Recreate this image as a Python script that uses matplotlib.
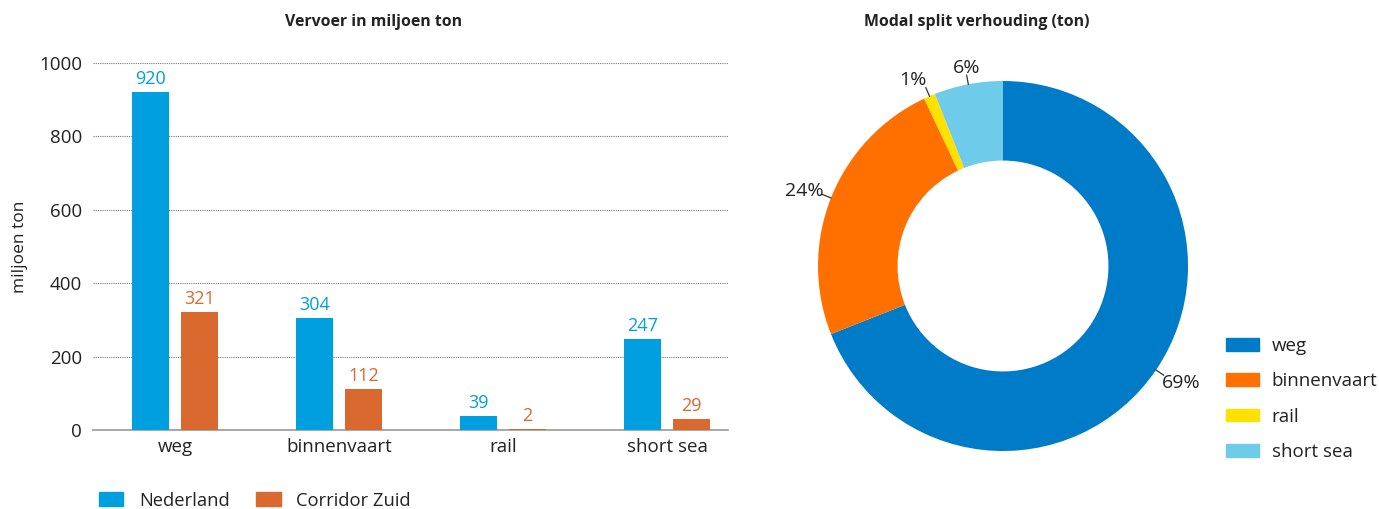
import matplotlib
matplotlib.use("Agg")
import matplotlib.pyplot as plt
from matplotlib.patches import Patch
import numpy as np

plt.rcParams['font.family'] = ['Open Sans', 'DejaVu Sans']

# ---- data ----
categories = ["weg", "binnenvaart", "rail", "short sea"]
nederland = [920, 304, 39, 247]
corridor_zuid = [321, 112, 2, 29]
series_names = ["Nederland", "Corridor Zuid"]
y_ticks = [0, 200, 400, 600, 800, 1000]

pie_labels = ["weg", "binnenvaart", "rail", "short sea"]
pie_pct = [69, 24, 1, 6]

bar_colors = ["#009FDF", "#D9692E"]
pie_colors = ["#007BC7", "#FF7000", "#FFE100", "#6ECBEA"]
text_col = "#222222"

W, H = 1379, 509
fig = plt.figure(figsize=(W / 100, H / 100), dpi=100)

# ---- bar chart ----
ax = fig.add_axes([93 / W, 1 - 430 / H, (728 - 93) / W, (430 - 63) / H])
x = np.arange(len(categories))
bw = 0.226
off = 0.149
b1 = ax.bar(x - off, nederland, bw, color=bar_colors[0], zorder=3)
b2 = ax.bar(x + off, corridor_zuid, bw, color=bar_colors[1], zorder=3)
for bars, vals, c in [(b1, nederland, bar_colors[0]), (b2, corridor_zuid, bar_colors[1])]:
    for r, v in zip(bars, vals):
        ax.annotate(str(v), (r.get_x() + r.get_width() / 2, v), xytext=(0, 3),
                    textcoords="offset points", ha="center", va="bottom",
                    color=c, fontsize=13)
ax.set_xlim(-0.5, 3.372)
ax.set_ylim(0, 1000)
ax.set_yticks(y_ticks)
ax.set_yticklabels([str(t) for t in y_ticks], fontsize=13.5, color=text_col)
ax.set_xticks(x)
ax.set_xticklabels(categories, fontsize=13.5, color=text_col)
ax.tick_params(axis="both", length=0, pad=8)
ax.tick_params(axis="x", pad=6)
for s in ["top", "right", "left"]:
    ax.spines[s].set_visible(False)
ax.spines["bottom"].set_color("#999999")
ax.spines["bottom"].set_linewidth(1.2)
ax.yaxis.grid(True, linestyle=(0, (1, 1)), color="#777777", linewidth=0.8, zorder=0)
ax.set_axisbelow(True)
ax.set_ylabel("miljoen ton", fontsize=12.5, color=text_col, labelpad=8)
fig.text(374 / W, 1 - 22 / H, "Vervoer in miljoen ton", ha="center", va="center",
         fontsize=11.4, fontweight="bold", color=text_col)

handles = [Patch(color=bar_colors[0]), Patch(color=bar_colors[1])]
fig.legend(handles, series_names, loc="upper left", bbox_to_anchor=(82 / W, 1 - 475 / H),
           ncol=2, frameon=False, fontsize=13.2, handlelength=1.35, handleheight=0.8,
           handletextpad=0.85, columnspacing=1.45, labelcolor=text_col)

# ---- donut ----
cx, cy, R = 1003, 266, 185
side = 440
pax = fig.add_axes([(cx - side / 2) / W, (H - cy - side / 2) / H, side / W, side / H])
wedges, _ = pax.pie(pie_pct, colors=pie_colors, startangle=90, counterclock=False,
                    radius=1.0, wedgeprops=dict(width=0.43, linewidth=0))
lim = side / 2 / R
pax.set_xlim(-lim, lim)
pax.set_ylim(-lim, lim)
pax.set_aspect("equal")
pax.axis("off")
for w, p in zip(wedges, pie_pct):
    ang = np.deg2rad((w.theta1 + w.theta2) / 2)
    ca, sa = np.cos(ang), np.sin(ang)
    pax.plot([1.0 * ca, 1.05 * ca], [1.0 * sa, 1.05 * sa], color="#333333", lw=0.9)
    ha = "left" if ca > 0.3 else ("right" if ca < -0.3 else "center")
    if sa > 0.85:
        va = "bottom"
    elif sa < -0.3:
        va = "top"
    else:
        va = "center"
    rr = 1.04 if ha == "center" else 1.04
    dy = 0.02 if va == "center" else 0.0
    pax.text(rr * ca, rr * sa + dy, f"{p}%", ha=ha, va=va, fontsize=14, color=text_col)

fig.text(977 / W, 1 - 22 / H, "Modal split verhouding (ton)", ha="center", va="center",
         fontsize=11.4, fontweight="bold", color=text_col)

ph = [Patch(color=c) for c in pie_colors]
fig.legend(ph, pie_labels, loc="upper left", bbox_to_anchor=(1209 / W, 1 - 320 / H),
           frameon=False, fontsize=13.5, handlelength=1.75, handleheight=0.65,
           handletextpad=0.7, labelspacing=0.93, labelcolor=text_col)

fig.savefig("out.png", dpi=100)
